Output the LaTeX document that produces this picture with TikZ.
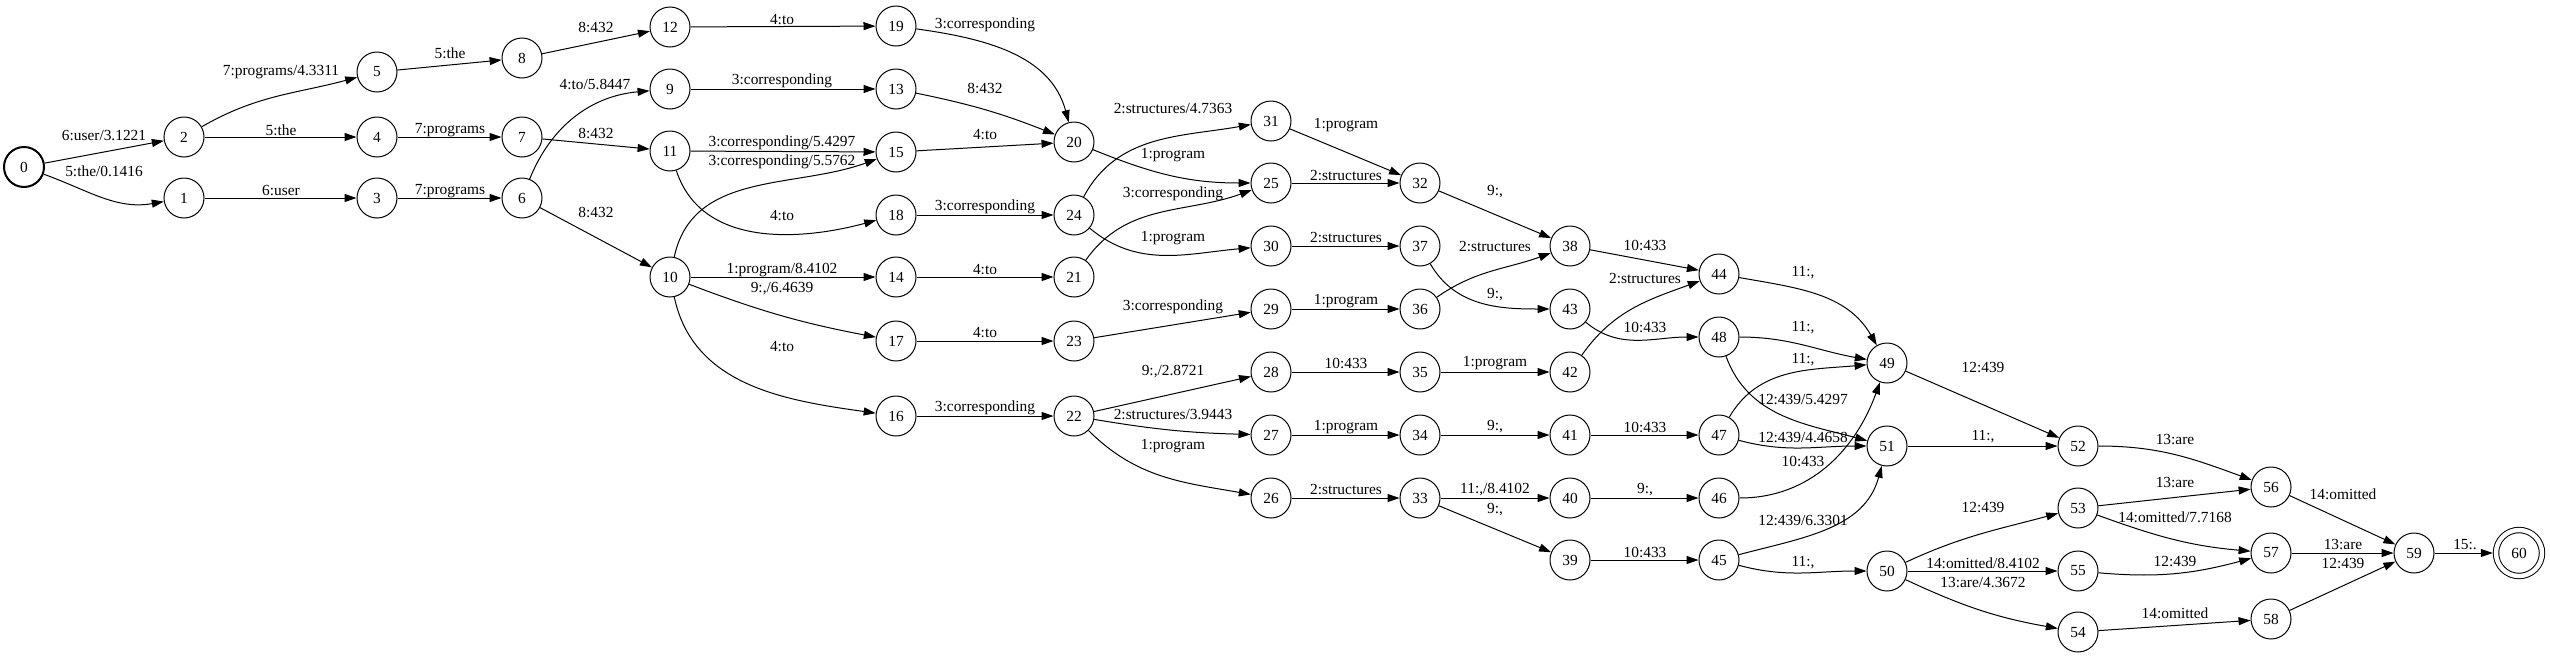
\documentclass[tikz,border=0pt]{standalone}
\usepackage{fontspec}
\setmainfont{Liberation Serif}
\usetikzlibrary{arrows.meta}

\begin{document}
\begin{tikzpicture}[
    x=0.5pt, y=-0.5pt,
    fst/.style={circle, draw, line width=0.5pt, minimum size=20pt, inner sep=0pt,
                font=\fontsize{7.7pt}{9pt}\selectfont},
    initst/.style={fst, line width=1pt},
    finalst/.style={fst, double, double distance=2.2pt, minimum size=23pt, outer sep=1.6pt},
    trans/.style={-{Triangle[length=6pt, width=4pt]}, line width=0.5pt},
    lbl/.style={font=\fontsize{7.7pt}{9pt}\selectfont, inner sep=0pt},
  ]
    \useasboundingbox (0,0) rectangle (2550,659);

    % states
    \node[initst] (s0) at (24,167) {0};
    \node[fst] (s1) at (184,198) {1};
    \node[fst] (s2) at (184,137) {2};
    \node[fst] (s3) at (377,198) {3};
    \node[fst] (s4) at (377,137) {4};
    \node[fst] (s5) at (377,72) {5};
    \node[fst] (s6) at (522,198) {6};
    \node[fst] (s7) at (522,137) {7};
    \node[fst] (s8) at (522,58) {8};
    \node[fst] (s9) at (670,89) {9};
    \node[fst] (s10) at (670,277) {10};
    \node[fst] (s11) at (670,151) {11};
    \node[fst] (s12) at (670,27) {12};
    \node[fst] (s13) at (896,89) {13};
    \node[fst] (s14) at (896,277) {14};
    \node[fst] (s15) at (896,152) {15};
    \node[fst] (s16) at (896,416) {16};
    \node[fst] (s17) at (896,341) {17};
    \node[fst] (s18) at (896,215) {18};
    \node[fst] (s19) at (896,26) {19};
    \node[fst] (s20) at (1074,142) {20};
    \node[fst] (s21) at (1074,277) {21};
    \node[fst] (s22) at (1074,416) {22};
    \node[fst] (s23) at (1074,341) {23};
    \node[fst] (s24) at (1074,215) {24};
    \node[fst] (s25) at (1271,183) {25};
    \node[fst] (s26) at (1271,498) {26};
    \node[fst] (s27) at (1271,435) {27};
    \node[fst] (s28) at (1271,372) {28};
    \node[fst] (s29) at (1271,309) {29};
    \node[fst] (s30) at (1271,246) {30};
    \node[fst] (s31) at (1271,121) {31};
    \node[fst] (s32) at (1420,183) {32};
    \node[fst] (s33) at (1420,498) {33};
    \node[fst] (s34) at (1420,435) {34};
    \node[fst] (s35) at (1420,372) {35};
    \node[fst] (s36) at (1420,309) {36};
    \node[fst] (s37) at (1420,246) {37};
    \node[fst] (s38) at (1570,246) {38};
    \node[fst] (s39) at (1570,560) {39};
    \node[fst] (s40) at (1570,498) {40};
    \node[fst] (s41) at (1570,435) {41};
    \node[fst] (s42) at (1570,372) {42};
    \node[fst] (s43) at (1570,309) {43};
    \node[fst] (s44) at (1719,274) {44};
    \node[fst] (s45) at (1719,560) {45};
    \node[fst] (s46) at (1719,498) {46};
    \node[fst] (s47) at (1719,435) {47};
    \node[fst] (s48) at (1719,337) {48};
    \node[fst] (s49) at (1887,363) {49};
    \node[fst] (s50) at (1887,571) {50};
    \node[fst] (s51) at (1887,446) {51};
    \node[fst] (s52) at (2078,446) {52};
    \node[fst] (s53) at (2078,508) {53};
    \node[fst] (s54) at (2078,632) {54};
    \node[fst] (s55) at (2078,571) {55};
    \node[fst] (s56) at (2271,487) {56};
    \node[fst] (s57) at (2271,553) {57};
    \node[fst] (s58) at (2271,619) {58};
    \node[fst] (s59) at (2414,553) {59};
    \node[finalst] (s60) at (2519,553) {60};

    % arcs
    \draw[trans] (s0) -- (s2) node[lbl] at (104,136) {6:user/3.1221};
    \draw[trans] (s0) to[out=-20, in=190] (s1) node[lbl] at (104,171) {5:the/0.1416};
    \draw[trans] (s2) to[out=30, in=195] (s5) node[lbl] at (281,72) {7:programs/4.3311};
    \draw[trans] (s2) -- (s4) node[lbl] at (281,130) {5:the};
    \draw[trans] (s1) -- (s3) node[lbl] at (281,191) {6:user};
    \draw[trans] (s5) -- (s8) node[lbl] at (450,53) {5:the};
    \draw[trans] (s4) -- (s7) node[lbl] at (450,130) {7:programs};
    \draw[trans] (s3) -- (s6) node[lbl] at (450,191) {7:programs};
    \draw[trans] (s8) -- (s12) node[lbl] at (596,27) {8:432};
    \draw[trans] (s6) to[out=68, in=185] (s9) node[lbl] at (595,84) {4:to/5.8447};
    \draw[trans] (s7) -- (s11) node[lbl] at (596,133) {8:432};
    \draw[trans] (s6) -- (s10) node[lbl] at (596,212) {8:432};
    \draw[trans] (s12) -- (s19) node[lbl] at (782,20) {4:to};
    \draw[trans] (s9) -- (s13) node[lbl] at (782,81) {3:corresponding};
    \draw[trans] (s11) -- (s15) node[lbl] at (782,143) {3:corresponding/5.4297};
    \draw[trans] (s10) to[out=78, in=200] (s15) node[lbl] at (782,162) {3:corresponding/5.5762};
    \draw[trans] (s11) to[out=-72, in=195] (s18) node[lbl] at (782,216) {4:to};
    \draw[trans] (s10) -- (s14) node[lbl] at (782,270) {1:program/8.4102};
    \draw[trans] (s10) to[bend right=5] (s17) node[lbl] at (782,289) {9:,/6.4639};
    \draw[trans] (s10) to[out=-78, in=172] (s16) node[lbl] at (782,347) {4:to};
    \draw[trans] (s19) to[out=-8, in=105] (s20) node[lbl] at (985,25) {3:corresponding};
    \draw[trans] (s13) to[bend left=5] (s20) node[lbl] at (985,88) {8:432};
    \draw[trans] (s15) -- (s20) node[lbl] at (985,135) {4:to};
    \draw[trans] (s18) -- (s24) node[lbl] at (985,207) {3:corresponding};
    \draw[trans] (s14) -- (s21) node[lbl] at (985,270) {4:to};
    \draw[trans] (s17) -- (s23) node[lbl] at (985,333) {4:to};
    \draw[trans] (s16) -- (s22) node[lbl] at (985,408) {3:corresponding};
    \draw[trans] (s24) to[out=62, in=190] (s31) node[lbl] at (1173,109) {2:structures/4.7363};
    \draw[trans] (s20) to[out=-22, in=180] (s25) node[lbl] at (1173,155) {1:program};
    \draw[trans] (s21) to[out=55, in=200] (s25) node[lbl] at (1173,194) {3:corresponding};
    \draw[trans] (s24) to[out=-40, in=185] (s30) node[lbl] at (1173,238) {1:program};
    \draw[trans] (s23) -- (s29) node[lbl] at (1173,307) {3:corresponding};
    \draw[trans] (s22) -- (s28) node[lbl] at (1173,372) {9:,/2.8721};
    \draw[trans] (s22) to[bend right=4] (s27) node[lbl] at (1173,415) {2:structures/3.9443};
    \draw[trans] (s22) to[out=-45, in=170] (s26) node[lbl] at (1173,446) {1:program};
    \draw[trans] (s31) -- (s32) node[lbl] at (1346,125) {1:program};
    \draw[trans] (s25) -- (s32) node[lbl] at (1346,176) {2:structures};
    \draw[trans] (s30) -- (s37) node[lbl] at (1346,238) {2:structures};
    \draw[trans] (s29) -- (s36) node[lbl] at (1346,301) {1:program};
    \draw[trans] (s28) -- (s35) node[lbl] at (1346,363) {10:433};
    \draw[trans] (s27) -- (s34) node[lbl] at (1346,427) {1:program};
    \draw[trans] (s26) -- (s33) node[lbl] at (1346,490) {2:structures};
    \draw[trans] (s32) -- (s38) node[lbl] at (1495,192) {9:,};
    \draw[trans] (s36) to[out=35, in=200] (s38) node[lbl] at (1495,247) {2:structures};
    \draw[trans] (s37) to[out=-60, in=180] (s43) node[lbl] at (1495,295) {9:,};
    \draw[trans] (s35) -- (s42) node[lbl] at (1495,363) {1:program};
    \draw[trans] (s34) -- (s41) node[lbl] at (1495,427) {9:,};
    \draw[trans] (s33) -- (s40) node[lbl] at (1495,490) {11:,/8.4102};
    \draw[trans] (s33) -- (s39) node[lbl] at (1495,510) {9:,};
    \draw[trans] (s38) -- (s44) node[lbl] at (1645,245) {10:433};
    \draw[trans] (s42) to[out=55, in=200] (s44) node[lbl] at (1645,279) {2:structures};
    \draw[trans] (s43) to[out=-40, in=180] (s48) node[lbl] at (1645,327) {10:433};
    \draw[trans] (s41) -- (s47) node[lbl] at (1645,427) {10:433};
    \draw[trans] (s40) -- (s46) node[lbl] at (1645,490) {9:,};
    \draw[trans] (s39) -- (s45) node[lbl] at (1645,552) {10:433};
    \draw[trans] (s44) to[out=-10, in=120] (s49) node[lbl] at (1803,273) {11:,};
    \draw[trans] (s48) to[out=0, in=170] (s49) node[lbl] at (1803,328) {11:,};
    \draw[trans] (s47) to[out=60, in=185] (s49) node[lbl] at (1803,360) {11:,};
    \draw[trans] (s48) to[out=-70, in=165] (s51) node[lbl] at (1803,400) {12:439/5.4297};
    \draw[trans] (s47) to[out=-15, in=180] (s51) node[lbl] at (1803,437) {12:439/4.4658};
    \draw[trans] (s46) to[out=0, in=-110] (s49) node[lbl] at (1803,461) {10:433};
    \draw[trans] (s45) to[out=15, in=-105] (s51) node[lbl] at (1803,520) {12:439/6.3301};
    \draw[trans] (s45) to[out=-15, in=180] (s50) node[lbl] at (1803,563) {11:,};
    \draw[trans] (s49) -- (s52) node[lbl] at (1983,368) {12:439};
    \draw[trans] (s51) -- (s52) node[lbl] at (1983,437) {11:,};
    \draw[trans] (s50) to[out=25, in=195] (s53) node[lbl] at (1983,508) {12:439};
    \draw[trans] (s50) -- (s55) node[lbl] at (1983,563) {14:omitted/8.4102};
    \draw[trans] (s50) to[out=-25, in=170] (s54) node[lbl] at (1983,583) {13:are/4.3672};
    \draw[trans] (s52) to[out=0, in=160] (s56) node[lbl] at (2175,440) {13:are};
    \draw[trans] (s53) -- (s56) node[lbl] at (2175,483) {13:are};
    \draw[trans] (s53) to[out=-20, in=175] (s57) node[lbl] at (2175,517) {14:omitted/7.7168};
    \draw[trans] (s55) to[out=-5, in=195] (s57) node[lbl] at (2175,562) {12:439};
    \draw[trans] (s54) -- (s58) node[lbl] at (2175,613) {14:omitted};
    \draw[trans] (s56) -- (s59) node[lbl] at (2343,494) {14:omitted};
    \draw[trans] (s57) -- (s59) node[lbl] at (2343,545) {13:are};
    \draw[trans] (s58) -- (s59) node[lbl] at (2343,564) {12:439};
    \draw[trans] (s59) -- (s60) node[lbl] at (2465,545) {15:.};
\end{tikzpicture}
\end{document}
